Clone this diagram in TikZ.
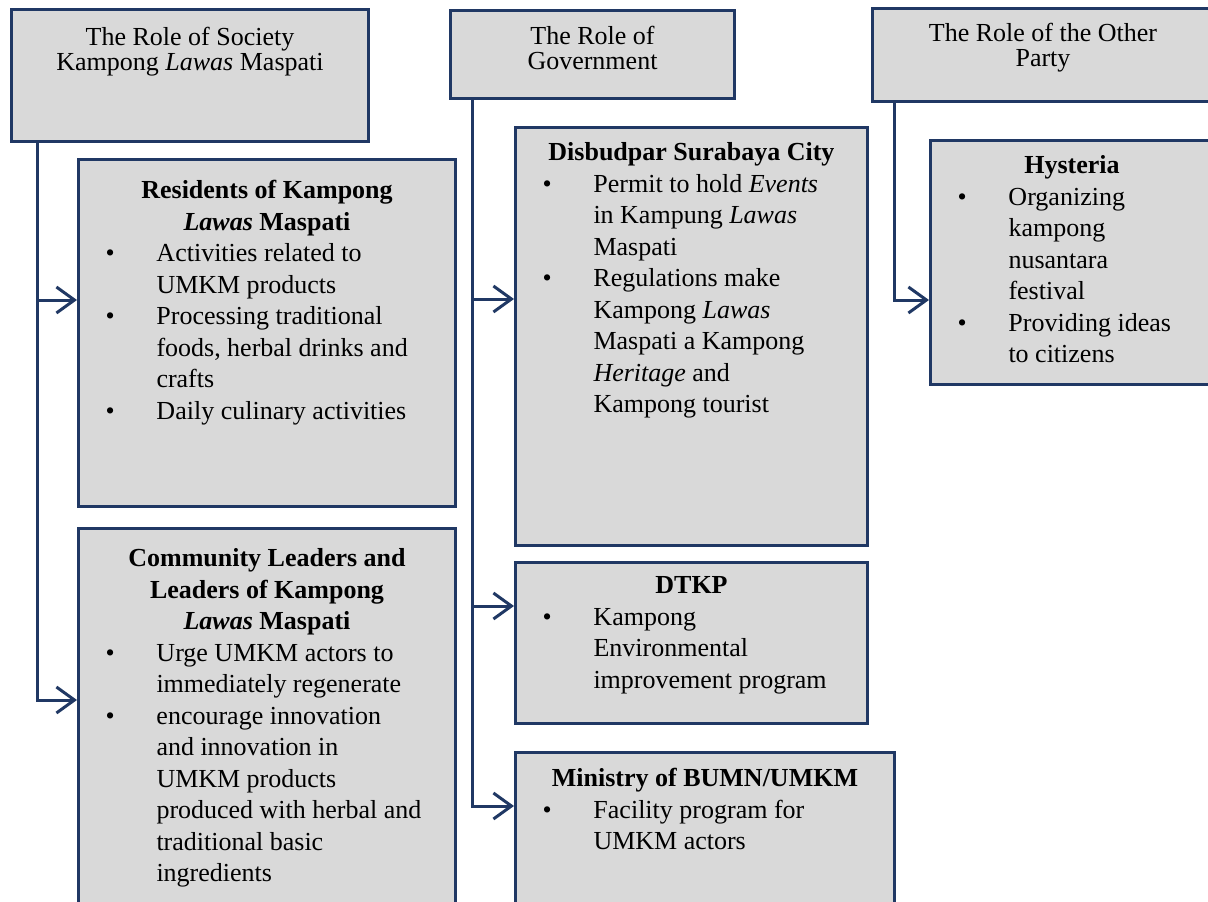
\documentclass[tikz,border=0pt]{standalone}
\usepackage{fontspec}
\setmainfont{Liberation Serif}
\usetikzlibrary{arrows.meta}

\definecolor{rolenavy}{RGB}{32,56,100}
\definecolor{rolegray}{RGB}{217,217,217}

% bullet line with hanging indent
\newcommand{\itm}{\par\noindent\hangindent=78pt\hangafter=1\hspace*{27pt}\makebox[51pt][l]{\textbullet}}
% box contents: width, height, top gap, text
\newcommand{\rolebody}[4]{\parbox[c][#2pt][t]{#1pt}{\fontsize{26}{31.5}\selectfont\raggedright\let\\\newline\vspace*{#3pt}#4}}
\newcommand{\rolehead}[4]{\parbox[c][#2pt][t]{#1pt}{\fontsize{26}{25}\selectfont\centering\vspace*{#3pt}#4}}
\newcommand{\roletitle}[1]{{\centering\bfseries #1\par}}

\begin{document}
\begin{tikzpicture}[x=1pt, y=-1pt,
    rolebox/.style={draw=rolenavy, fill=rolegray, line width=3pt, inner sep=0pt, anchor=north west},
    link/.style={draw=rolenavy, line width=3pt, -{Straight Barb[length=18pt, width=26pt]}}]
    \useasboundingbox (0,0) rectangle (1208,902);
    % Define boxes
        \node[rolebox] (society) at (10,8) {\rolehead{357}{132}{18}{The Role of Society\\Kampong \textit{Lawas} Maspati}};
        \node[rolebox] (government) at (449,9) {\rolehead{284}{88}{16}{The Role of\\Government}};
        \node[rolebox] (other) at (871,7) {\rolehead{341}{93}{15}{The Role of the Other\\Party}};
        \node[rolebox] (residents) at (77,158) {\rolebody{377}{347}{21}{%
            \roletitle{Residents of Kampong\\\textit{Lawas} Maspati}%
            \itm Activities related to\\UMKM products
            \itm Processing traditional\\foods, herbal drinks and\\crafts
            \itm Daily culinary activities}};
        \node[rolebox] (community) at (77,527) {\rolebody{377}{390}{20}{%
            \roletitle{Community Leaders and\\Leaders of Kampong\\\textit{Lawas} Maspati}%
            \itm Urge UMKM actors to\\immediately regenerate
            \itm encourage innovation\\and innovation in\\UMKM products\\produced with herbal and\\traditional basic\\ingredients}};
        \node[rolebox] (disbudpar) at (514,126) {\rolebody{352}{418}{15}{%
            \roletitle{Disbudpar Surabaya City}%
            \itm Permit to hold \textit{Events}\\in Kampung \textit{Lawas}\\Maspati
            \itm Regulations make\\Kampong \textit{Lawas}\\Maspati a Kampong\\\textit{Heritage} and\\Kampong tourist}};
        \node[rolebox] (dtkp) at (514,561) {\rolebody{352}{161}{14}{%
            \roletitle{DTKP}%
            \itm Kampong\\Environmental\\improvement program}};
        \node[rolebox] (ministry) at (514,751) {\rolebody{379}{160}{16}{%
            \roletitle{Ministry of BUMN/UMKM}%
            \itm Facility program for\\UMKM actors}};
        \node[rolebox] (hysteria) at (929,139) {\rolebody{283}{244}{15}{%
            \roletitle{Hysteria}%
            \itm Organizing\\kampong\\nusantara\\festival
            \itm Providing ideas\\to citizens}};
    % Draw arrows
        \draw[link] ([xshift=27pt]society.south west) |- ([yshift=-142pt]residents.north west);
        \draw[link] ([xshift=27pt]society.south west) |- ([yshift=-173pt]community.north west);
        \draw[link] ([xshift=23pt]government.south west) |- ([yshift=-173pt]disbudpar.north west);
        \draw[link] ([xshift=23pt]government.south west) |- ([yshift=-45pt]dtkp.north west);
        \draw[link] ([xshift=23pt]government.south west) |- ([yshift=-55pt]ministry.north west);
        \draw[link] ([xshift=23pt]other.south west) |- ([yshift=-161pt]hysteria.north west);
\end{tikzpicture}
\end{document}
